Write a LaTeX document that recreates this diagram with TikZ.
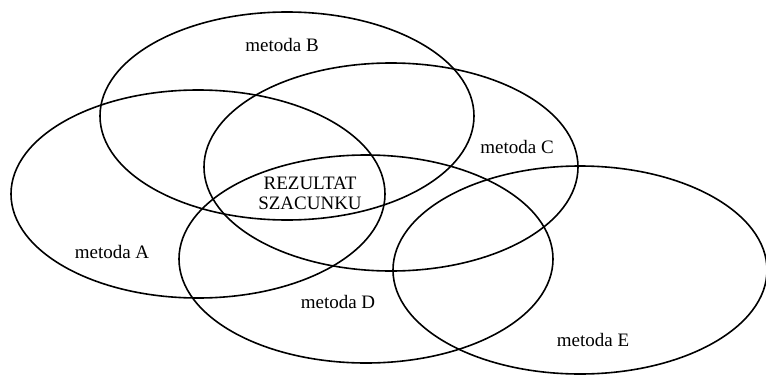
\documentclass[tikz,border=0pt]{standalone}
\usepackage{fontspec}
\setmainfont{Liberation Serif}
\usetikzlibrary{shapes.geometric}

\begin{document}
\begin{tikzpicture}[
    x=1pt, y=-1pt,
    metodaEllipse/.style={ellipse, draw=black, line width=1.6pt, minimum width=374pt, minimum height=208pt, inner sep=0pt},
    metodaLabel/.style={font=\fontsize{19}{20}\selectfont, inner sep=0pt}
]
\useasboundingbox (0,0) rectangle (766,375);

% the five methods
\node[metodaEllipse] (eA) at (198,194) {};
\node[metodaEllipse] (eB) at (287,116) {};
\node[metodaEllipse] (eC) at (391,167) {};
\node[metodaEllipse] (eD) at (366,259) {};
\node[metodaEllipse] (eE) at (580,270) {};

% labels
\node[metodaLabel] (lA) at (112,252) {metoda A};
\node[metodaLabel] (lB) at (282,45) {metoda B};
\node[metodaLabel] (lC) at (517,147) {metoda C};
\node[metodaLabel] (lD) at (338,302) {metoda D};
\node[metodaLabel] (lE) at (593,340) {metoda E};

% common part
\node[metodaLabel, align=center] (wynik) at (310,193) {REZULTAT\\SZACUNKU};
\end{tikzpicture}
\end{document}
